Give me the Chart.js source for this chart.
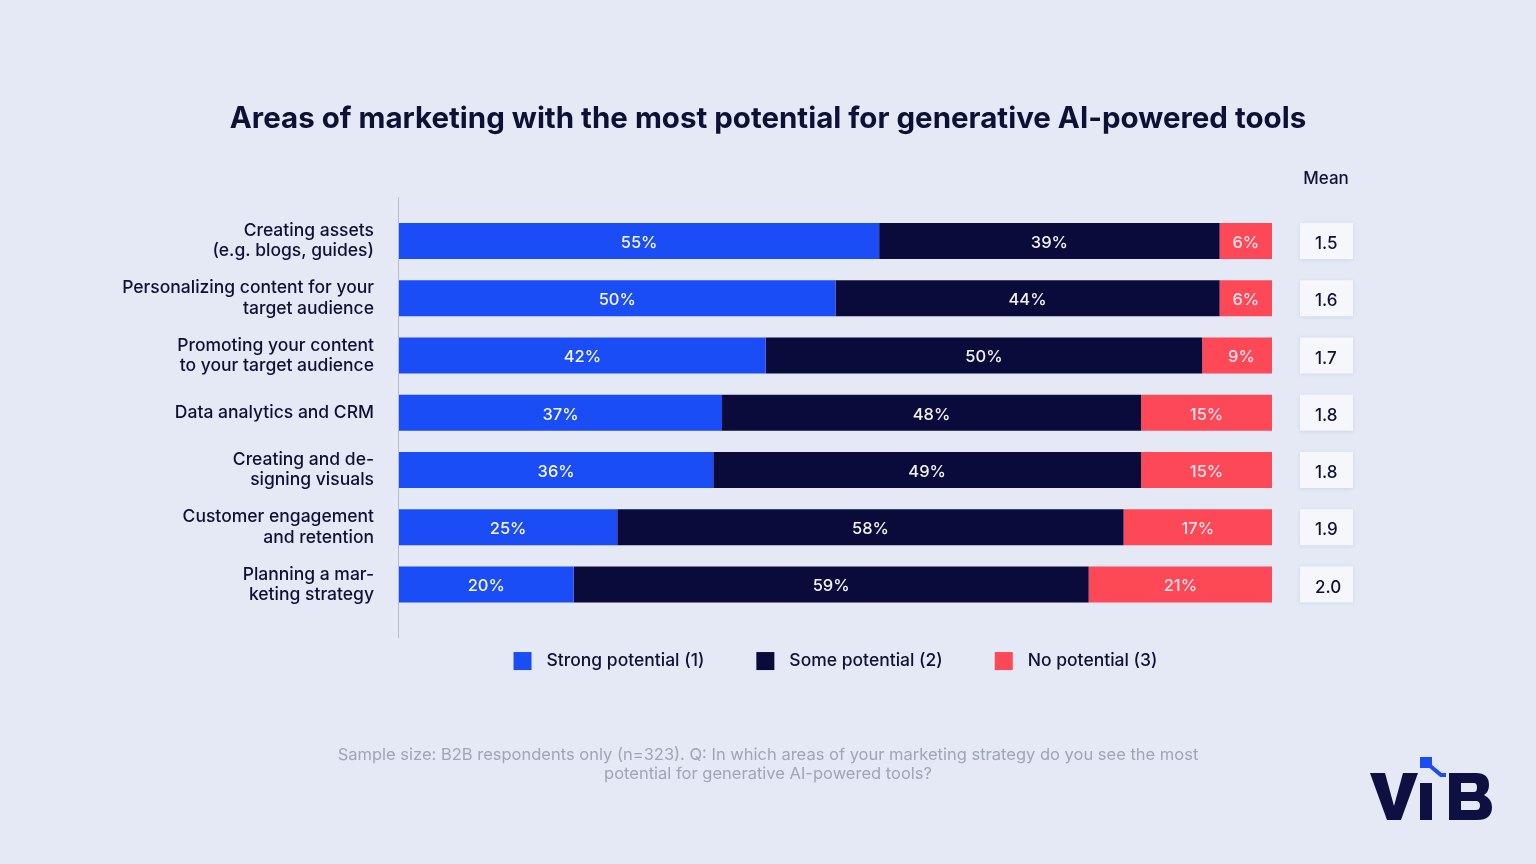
<!DOCTYPE html>
<html>
<head>
<meta charset="utf-8">
<title>Generative AI marketing potential</title>
<script src="https://cdn.jsdelivr.net/npm/chart.js@4.4.1/dist/chart.umd.min.js"></script>
<style>
    html, body { margin: 0; padding: 0; background: #e4e9f5; }
    #wrap { width: 1536px; height: 864px; position: relative; }
</style>
</head>
<body>
<div id="wrap"><canvas id="potential-chart"></canvas></div>
<script>
var categories = [
    ['Creating assets', '(e.g. blogs, guides)'],
    ['Personalizing content for your', 'target audience'],
    ['Promoting your content', 'to your target audience'],
    'Data analytics and CRM',
    ['Creating and de-', 'signing visuals'],
    ['Customer engagement', 'and retention'],
    ['Planning a mar-', 'keting strategy']
];
var strongPotential = [55, 50, 42, 37, 36, 25, 20];
var somePotential = [39, 44, 50, 48, 49, 58, 59];
var noPotential = [6, 6, 9, 15, 15, 17, 21];
var meanScores = [1.5, 1.6, 1.7, 1.8, 1.8, 1.9, 2.0];
var seriesNames = ['Strong potential (1)', 'Some potential (2)', 'No potential (3)'];
var seriesColors = ['#1a4df5', '#0a0b3b', '#fd4858'];

var FONT = 'Inter, "Noto Sans", sans-serif';
var NAVY = '#0f1035';

// background, axis line and the mean boxes (drawn under the tick labels)
var backdrop = {
    id: 'backdrop',
    beforeDraw: function (chart) {
        var ctx = chart.ctx;
        var area = chart.chartArea;
        var y = chart.scales.y;
        ctx.save();
        ctx.fillStyle = '#e4e9f5';
        ctx.fillRect(0, 0, chart.width, chart.height);

        ctx.strokeStyle = '#b9bdc9';
        ctx.lineWidth = 1;
        ctx.beginPath();
        ctx.moveTo(area.left - 0.5, area.top - 15);
        ctx.lineTo(area.left - 0.5, area.bottom + 25);
        ctx.stroke();

        meanScores.forEach(function (m, i) {
            var cy = y.getPixelForValue(i);
            ctx.shadowColor = 'rgba(40, 50, 90, 0.10)';
            ctx.shadowBlur = 4;
            ctx.shadowOffsetY = 1;
            ctx.fillStyle = '#f5f7fd';
            ctx.fillRect(area.right + 28, cy - 18, 53, 36);
        });
        ctx.shadowColor = 'transparent';

        ctx.fillStyle = NAVY;
        ctx.font = '500 17px ' + FONT;
        ctx.textAlign = 'center';
        ctx.textBaseline = 'middle';
        ctx.fillText('Mean', area.right + 54, area.top - 34);
        ctx.restore();
    },
    afterDatasetsDraw: function (chart) {
        var ctx = chart.ctx;
        ctx.save();
        ctx.font = '500 16.5px ' + FONT;
        ctx.textAlign = 'center';
        ctx.textBaseline = 'middle';
        chart.data.datasets.forEach(function (ds, di) {
            var meta = chart.getDatasetMeta(di);
            meta.data.forEach(function (bar, i) {
                ctx.fillStyle = di === 2 ? 'rgba(255,235,238,0.95)' : 'rgba(255,255,255,0.95)';
                ctx.fillText(ds.data[i] + '%', (bar.x + bar.base) / 2, bar.y + 2);
            });
        });
        ctx.restore();
    },
    afterDraw: function (chart) {
        var ctx = chart.ctx;
        var area = chart.chartArea;
        ctx.save();
        // legend, centred on the plot area
        ctx.font = '500 17.5px ' + FONT;
        ctx.textBaseline = 'middle';
        ctx.textAlign = 'left';
        var widths = seriesNames.map(function (n) { return ctx.measureText(n).width; });
        var total = widths.reduce(function (a, w) { return a + 18 + 15 + w; }, 0) + 52 * (seriesNames.length - 1);
        var x = (area.left + area.right) / 2 - total / 2;
        var ly = area.bottom + 48;
        seriesNames.forEach(function (n, i) {
            ctx.fillStyle = seriesColors[i];
            ctx.fillRect(x, ly - 9, 18, 18);
            ctx.fillStyle = NAVY;
            ctx.fillText(n, x + 33, ly);
            x += 33 + widths[i] + 52;
        });

        // VIB logo
        ctx.fillStyle = '#0d1040';
        ctx.beginPath();
        ctx.moveTo(1370, 773);
        ctx.lineTo(1385, 773);
        ctx.lineTo(1394, 806);
        ctx.lineTo(1403, 773);
        ctx.lineTo(1418, 773);
        ctx.lineTo(1401, 820);
        ctx.lineTo(1387, 820);
        ctx.closePath();
        ctx.fill();
        ctx.fillRect(1420, 783, 12, 37);
        ctx.beginPath();
        ctx.moveTo(1449, 773);
        ctx.lineTo(1476, 773);
        ctx.quadraticCurveTo(1489, 773, 1489, 785);
        ctx.quadraticCurveTo(1489, 792, 1484, 795);
        ctx.quadraticCurveTo(1492, 799, 1492, 807);
        ctx.quadraticCurveTo(1492, 820, 1477, 820);
        ctx.lineTo(1449, 820);
        ctx.closePath();
        ctx.moveTo(1461, 783);
        ctx.lineTo(1461, 792);
        ctx.lineTo(1474, 792);
        ctx.quadraticCurveTo(1477, 792, 1477, 787.5);
        ctx.quadraticCurveTo(1477, 783, 1474, 783);
        ctx.closePath();
        ctx.moveTo(1461, 801);
        ctx.lineTo(1461, 810);
        ctx.lineTo(1476, 810);
        ctx.quadraticCurveTo(1480, 810, 1480, 805.5);
        ctx.quadraticCurveTo(1480, 801, 1476, 801);
        ctx.closePath();
        ctx.fill('evenodd');
        ctx.fillStyle = '#1a4df5';
        ctx.fillRect(1420, 757, 12, 11);
        ctx.strokeStyle = '#1a4df5';
        ctx.lineWidth = 4;
        ctx.beginPath();
        ctx.moveTo(1429, 765);
        ctx.lineTo(1441, 775);
        ctx.lineTo(1446, 775);
        ctx.stroke();
        ctx.restore();
    }
};

var potentialChart = new Chart(document.getElementById('potential-chart'), {
    type: 'bar',
    data: {
        labels: categories,
        datasets: [
            { label: seriesNames[0], data: strongPotential, backgroundColor: seriesColors[0] },
            { label: seriesNames[1], data: somePotential, backgroundColor: seriesColors[1] },
            { label: seriesNames[2], data: noPotential, backgroundColor: seriesColors[2] }
        ]
    },
    options: {
        indexAxis: 'y',
        responsive: true,
        maintainAspectRatio: false,
        animation: false,
        layout: { padding: 0 },
        datasets: {
            bar: {
                borderWidth: 0,
                categoryPercentage: 1,
                barPercentage: 0.63
            }
        },
        scales: {
            x: {
                stacked: true,
                min: 0,
                max: 100,
                display: false
            },
            y: {
                stacked: true,
                grid: { display: false, drawTicks: false },
                border: { display: false },
                ticks: {
                    color: NAVY,
                    padding: 25,
                    font: { family: FONT, size: 17.5, weight: 500, lineHeight: 1.15 }
                },
                afterFit: function (scale) { scale.width = 399; }
            },
            y2: {
                type: 'category',
                position: 'right',
                offset: true,
                labels: meanScores.map(function (m) { return m.toFixed(1); }),
                grid: { display: false, drawTicks: false },
                border: { display: false },
                ticks: {
                    color: NAVY,
                    padding: 43,
                    labelOffset: 3,
                    font: { family: FONT, size: 17, weight: 500 }
                },
                afterFit: function (scale) { scale.width = 264; }
            }
        },
        plugins: {
            legend: { display: false },
            tooltip: { enabled: false },
            title: {
                display: true,
                text: 'Areas of marketing with the most potential for generative AI-powered tools',
                color: NAVY,
                font: { family: FONT, size: 29.5, weight: 'bold' },
                padding: { top: 101, bottom: 76 }
            },
            subtitle: {
                display: true,
                position: 'bottom',
                text: [
                    'Sample size: B2B respondents only (n=323). Q: In which areas of your marketing strategy do you see the most',
                    'potential for generative AI-powered tools?'
                ],
                color: '#a0a5b5',
                font: { family: FONT, size: 16.5, weight: 'normal', lineHeight: 1.15 },
                padding: { top: 133, bottom: 80 }
            }
        }
    },
    plugins: [backdrop]
});
</script>
</body>
</html>
